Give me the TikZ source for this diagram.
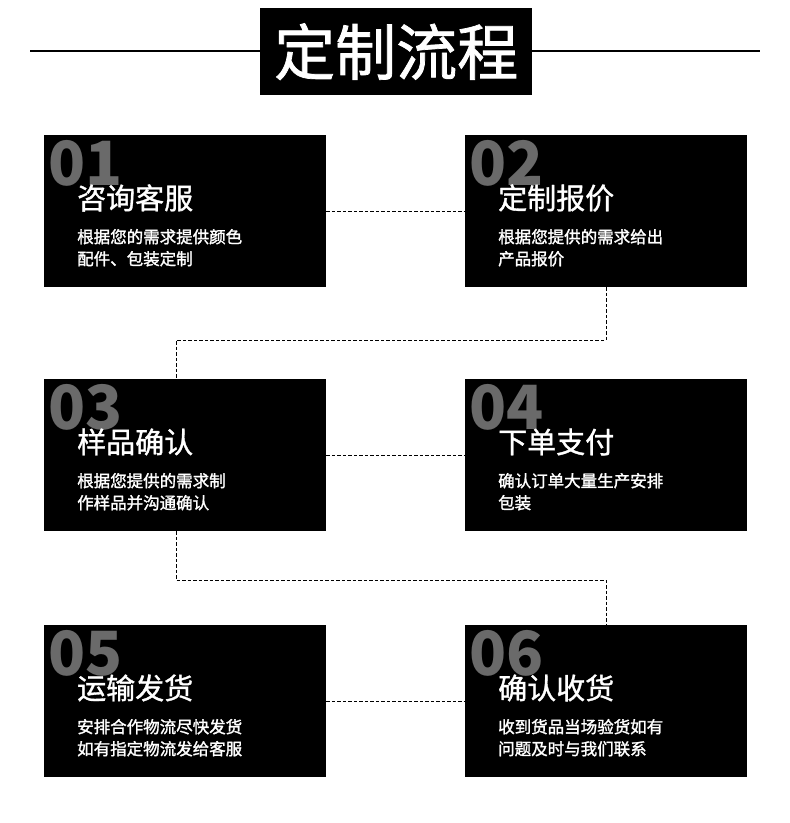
\documentclass[tikz,border=0pt]{standalone}
\usepackage{fontspec}
\setmainfont{Noto Sans CJK SC}
\newfontfamily\medfont{Noto Sans CJK SC}[BoldFont={Noto Sans CJK SC}, BoldFeatures={FakeBold=1.2}]
\newfontfamily\descfont{Noto Sans CJK SC}[BoldFont={Noto Sans CJK SC}, BoldFeatures={FakeBold=1.6}]
\definecolor{numgray}{HTML}{6A6A6A}
\tikzset{
  card/.style={fill=black, draw=none, minimum width=282pt, minimum height=152pt, anchor=north west, inner sep=0pt},
  numtxt/.style={anchor=base west, inner sep=0pt, text=numgray, font=\bfseries\fontsize{61}{61}\selectfont},
  ttl/.style={anchor=base west, inner sep=0pt, text=white, font=\medfont\bfseries\fontsize{29}{29}\selectfont},
  desc/.style={anchor=base west, inner sep=0pt, text=white, font=\descfont\bfseries\fontsize{16.5}{16.5}\selectfont},
  conn/.style={draw=black, line width=1pt, dash pattern=on 3.5pt off 2pt},
}
\newcommand{\card}[6]{%
  \node[card] (#1) at (#2,#3) {};
  \node[numtxt] (#1n) at (#2+4,#3+50) {#4};
  \node[ttl] (#1t) at (#2+33,#3+74) {#5};
  #6
}
\begin{document}
\begin{tikzpicture}[x=1pt,y=-1pt]
\useasboundingbox (0,0) rectangle (790,823);
% title
\draw[line width=2.6pt] (30,51) coordinate (tl) -- (760,51) coordinate (tr);
\node[fill=black, minimum width=272pt, minimum height=87pt, inner sep=0pt, anchor=north west, text=white, font=\medfont\bfseries\fontsize{61}{61}\selectfont] (title) at (260,8) {定制流程};
% cards
\card{b1}{44}{135}{01}{咨询客服}{%
  \node[desc] (b1d1) at (44+33,135+108) {根据您的需求提供颜色};
  \node[desc] (b1d2) at (44+33,135+130) {配件、包装定制};}
\card{b2}{465}{135}{02}{定制报价}{%
  \node[desc] (b2d1) at (465+33,135+108) {根据您提供的需求给出};
  \node[desc] (b2d2) at (465+33,135+130) {产品报价};}
\card{b3}{44}{379}{03}{样品确认}{%
  \node[desc] (b3d1) at (44+33,379+108) {根据您提供的需求制};
  \node[desc] (b3d2) at (44+33,379+130) {作样品并沟通确认};}
\card{b4}{465}{379}{04}{下单支付}{%
  \node[desc] (b4d1) at (465+33,379+108) {确认订单大量生产安排};
  \node[desc] (b4d2) at (465+33,379+130) {包装};}
\card{b5}{44}{625}{05}{运输发货}{%
  \node[desc] (b5d1) at (44+33,625+108) {安排合作物流尽快发货};
  \node[desc] (b5d2) at (44+33,625+130) {如有指定物流发给客服};}
\card{b6}{465}{625}{06}{确认收货}{%
  \node[desc] (b6d1) at (465+33,625+108) {收到货品当场验货如有};
  \node[desc] (b6d2) at (465+33,625+130) {问题及时与我们联系};}
% connectors
\draw[conn] (b1.east) -- (b2.west);
\draw[conn] (b2.south) -- ++(0,53) -| ([xshift=132pt]b3.north west);
\draw[conn] (b3.east) -- (b4.west);
\draw[conn] ([xshift=132pt]b3.south west) -- ++(0,49) -| (b6.north);
\draw[conn] (b5.east) -- (b6.west);
\end{tikzpicture}
\end{document}
